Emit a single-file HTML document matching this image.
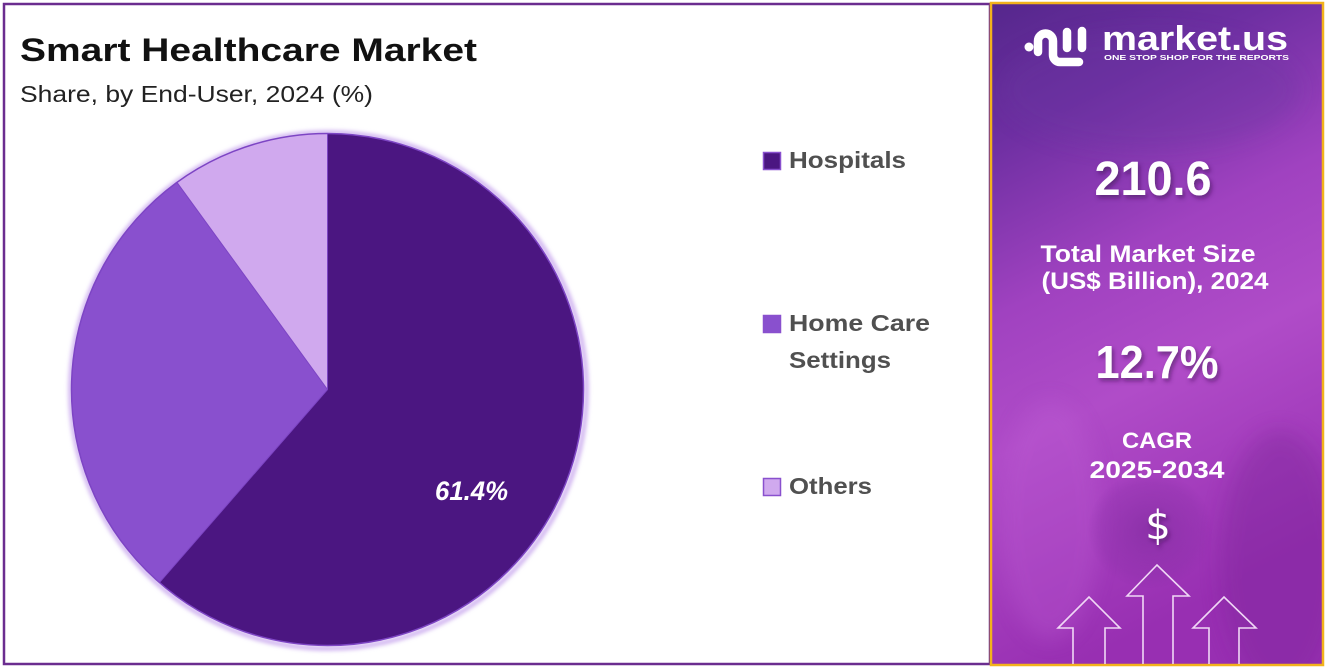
<!DOCTYPE html>
<html><head><meta charset="utf-8">
<style>
html,body{margin:0;padding:0;background:#fff;}
svg{display:block;}
</style></head>
<body>
<svg width="1326" height="671" viewBox="0 0 1326 671" xmlns="http://www.w3.org/2000/svg">
<defs>
<linearGradient id="bg" x1="0" y1="0" x2="0.25" y2="1">
<stop offset="0" stop-color="#55278c"/>
<stop offset="0.2" stop-color="#6e2fa2"/>
<stop offset="0.45" stop-color="#a042c0"/>
<stop offset="0.65" stop-color="#b04cc8"/>
<stop offset="1" stop-color="#982fb2"/>
</linearGradient>
<radialGradient id="cup" cx="0.5" cy="0.5" r="0.5">
<stop offset="0" stop-color="#7a2a9a" stop-opacity="0.55"/>
<stop offset="0.8" stop-color="#8a30a8" stop-opacity="0.3"/>
<stop offset="1" stop-color="#8a30a8" stop-opacity="0"/>
</radialGradient>
<clipPath id="rp"><rect x="991" y="3" width="332" height="662"/></clipPath>
<filter id="ts" x="-20%" y="-20%" width="140%" height="160%">
<feDropShadow dx="2" dy="3" stdDeviation="2" flood-color="#3a0a50" flood-opacity="0.55"/>
</filter>
<filter id="glow" x="-5%" y="-5%" width="110%" height="110%">
<feGaussianBlur stdDeviation="2"/>
</filter>
<filter id="blur8" x="-50%" y="-50%" width="200%" height="200%"><feGaussianBlur stdDeviation="10"/></filter>
</defs>

<!-- left panel -->
<rect x="4" y="4" width="986" height="660" fill="#fff" stroke="#6b2d8f" stroke-width="2.5"/>

<text x="20" y="61" font-family="Liberation Sans, sans-serif" font-weight="bold" font-size="32" fill="#111" textLength="457" lengthAdjust="spacingAndGlyphs">Smart Healthcare Market</text>
<text x="20" y="102" font-family="Liberation Sans, sans-serif" font-size="23" fill="#222" textLength="353" lengthAdjust="spacingAndGlyphs">Share, by End-User, 2024 (%)</text>

<!-- pie -->
<circle cx="328.5" cy="390.5" r="258" fill="none" stroke="#c9a8ee" stroke-width="4" filter="url(#glow)"/>
<path d="M327.5,389.5 L327.5,133.5 A256,256 0 1 1 159.4,582.6 Z" fill="#4b1681"/>
<path d="M327.5,389.5 L159.4,582.6 A256,256 0 0 1 177,182.4 Z" fill="#8950ce"/>
<path d="M327.5,389.5 L177,182.4 A256,256 0 0 1 327.5,133.5 Z" fill="#d0a9ee"/>
<circle cx="327.5" cy="389.5" r="256" fill="none" stroke="#7d45c4" stroke-width="1.5"/>
<line x1="327.5" y1="389.5" x2="327.5" y2="133.5" stroke="#7d45c4" stroke-width="1"/>
<line x1="327.5" y1="389.5" x2="177" y2="182.4" stroke="#7d45c4" stroke-width="1"/>
<line x1="327.5" y1="389.5" x2="159.4" y2="582.6" stroke="#7d45c4" stroke-width="1"/>

<text x="435" y="500" font-family="Liberation Sans, sans-serif" font-weight="bold" font-style="italic" font-size="27" fill="#fff" textLength="73" lengthAdjust="spacingAndGlyphs">61.4%</text>

<!-- legend -->
<rect x="763.5" y="152.5" width="17" height="17" fill="#4b1681" stroke="#8950ce" stroke-width="1.5"/>
<text x="789" y="168" font-family="Liberation Sans, sans-serif" font-weight="bold" font-size="23" fill="#505050" textLength="117" lengthAdjust="spacingAndGlyphs">Hospitals</text>
<rect x="763.5" y="315.5" width="17" height="17" fill="#8950ce" stroke="#8950ce" stroke-width="1.5"/>
<text x="789" y="331" font-family="Liberation Sans, sans-serif" font-weight="bold" font-size="23" fill="#505050" textLength="141" lengthAdjust="spacingAndGlyphs">Home Care</text>
<text x="789" y="368" font-family="Liberation Sans, sans-serif" font-weight="bold" font-size="23" fill="#505050" textLength="102" lengthAdjust="spacingAndGlyphs">Settings</text>
<rect x="763.5" y="478.5" width="17" height="17" fill="#d0a9ee" stroke="#8950ce" stroke-width="1.5"/>
<text x="789" y="494" font-family="Liberation Sans, sans-serif" font-weight="bold" font-size="23" fill="#505050" textLength="83" lengthAdjust="spacingAndGlyphs">Others</text>

<!-- right panel -->
<rect x="991" y="3" width="332" height="662" fill="url(#bg)"/>
<g clip-path="url(#rp)">
<g filter="url(#blur8)" opacity="0.6">
<ellipse cx="1150" cy="90" rx="150" ry="60" fill="#6a3aa0" opacity="0.5"/>
<ellipse cx="1280" cy="560" rx="60" ry="130" fill="#7a2596" opacity="0.6"/>
<ellipse cx="1050" cy="520" rx="50" ry="120" fill="#c060d8" opacity="0.5"/>
</g>
<ellipse cx="1150" cy="530" rx="62" ry="58" fill="url(#cup)"/>
</g>
<rect x="991" y="3" width="332" height="662" fill="none" stroke="#f2b21c" stroke-width="2.5"/>

<!-- logo -->
<g fill="none" stroke="#fff" stroke-width="8.5" stroke-linecap="round">
<path d="M1038,52 V41 A7.5,7.5 0 0 1 1053,41 V55 A7,7 0 0 0 1060,62 H1079"/>
<line x1="1067" y1="32" x2="1067" y2="48"/>
<line x1="1082" y1="31" x2="1082" y2="48"/>
</g>
<circle cx="1029" cy="47" r="4.5" fill="#fff"/>
<text x="1102" y="50" font-family="Liberation Sans, sans-serif" font-weight="bold" font-size="34" fill="#fff" textLength="186" lengthAdjust="spacingAndGlyphs">market.us</text>
<text x="1104" y="60" font-family="Liberation Sans, sans-serif" font-weight="bold" font-size="7.5" fill="#fff" textLength="185" lengthAdjust="spacingAndGlyphs">ONE STOP SHOP FOR THE REPORTS</text>

<g font-family="Liberation Sans, sans-serif" font-weight="bold" fill="#fff" text-anchor="middle" filter="url(#ts)">
<text x="1153" y="195" font-size="48" textLength="117" lengthAdjust="spacingAndGlyphs">210.6</text>
<text x="1157" y="378" font-size="46" textLength="123" lengthAdjust="spacingAndGlyphs">12.7%</text>
</g>
<g font-family="Liberation Sans, sans-serif" font-weight="bold" fill="#fff" text-anchor="middle">
<text x="1148" y="262" font-size="24" textLength="215" lengthAdjust="spacingAndGlyphs">Total Market Size</text>
<text x="1155" y="289" font-size="24" textLength="227" lengthAdjust="spacingAndGlyphs">(US$ Billion), 2024</text>
<text x="1157" y="448" font-size="22" textLength="70" lengthAdjust="spacingAndGlyphs">CAGR</text>
<text x="1157" y="478" font-size="24" textLength="135" lengthAdjust="spacingAndGlyphs">2025-2034</text>
</g>
<text x="1158" y="539" text-anchor="middle" font-family="DejaVu Sans, sans-serif" font-weight="normal" font-size="40" fill="#fff" filter="url(#ts)">$</text>

<!-- arrows -->
<g fill="none" stroke="#f0d8f6" stroke-width="1.6">
<path d="M1073,664 V628 H1058 L1089,597 L1120,628 H1105 V664"/>
<path d="M1143,664 V596 H1127 L1157,565 L1189,596 H1173 V664"/>
<path d="M1209,664 V628 H1193 L1224,597 L1256,628 H1239 V664"/>
</g>
</svg>
</body></html>
